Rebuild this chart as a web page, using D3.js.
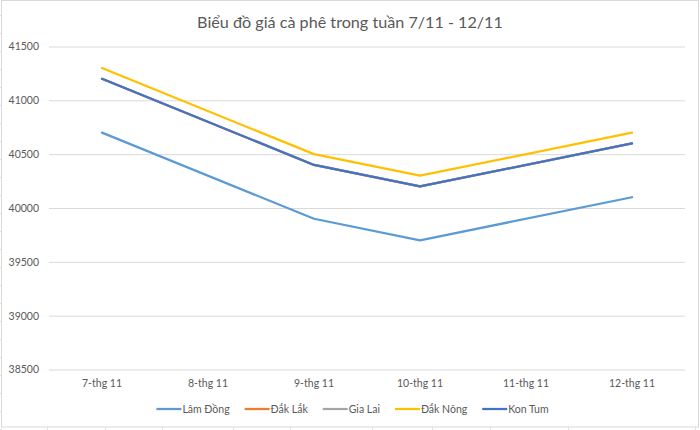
<!DOCTYPE html>
<html>
<head>
<meta charset="utf-8">
<script src="https://cdn.jsdelivr.net/npm/d3@7"></script>
<style>
  html, body { margin: 0; padding: 0; background: #fff; }
  svg { display: block; }
  text { font-family: Lato, "Open Sans", sans-serif; fill: #595959; }
</style>
</head>
<body>
<svg id="chart" width="700" height="430"></svg>
<script>
const categories = ["7-thg 11", "8-thg 11", "9-thg 11", "10-thg 11", "11-thg 11", "12-thg 11"];
const seriesNames = ["Lâm Đồng", "Đắk Lắk", "Gia Lai", "Đắk Nông", "Kon Tum"];
const lamDong = [40700, null, 39900, 39700, null, 40100];
const dakLak  = [41200, null, 40400, 40200, null, 40600];
const giaLai  = [41200, null, 40400, 40200, null, 40600];
const dakNong = [41300, null, 40500, 40300, null, 40700];
const konTum  = [41200, null, 40400, 40200, null, 40600];
const yTicks = [38500, 39000, 39500, 40000, 40500, 41000, 41500];
const titleText = "Biểu đồ giá cà phê trong tuần 7/11 - 12/11";

const seriesValues = [lamDong, dakLak, giaLai, dakNong, konTum];
const colors = ["#5B9BD5", "#ED7D31", "#A5A5A5", "#FFC000", "#4472C4"];

const svg = d3.select("#chart");

// cell-grid remnants outside chart frame
const cellLines = svg.append("g").attr("stroke", "#e2e2e2").attr("stroke-width", 1);
d3.range(15, 430, 18).forEach(y => cellLines.append("line").attr("x1", 0).attr("x2", 2).attr("y1", y + 0.5).attr("y2", y + 0.5));
[47, 105, 162, 233, 290, 372, 432, 490, 568, 695].forEach(x => cellLines.append("line").attr("x1", x + 0.5).attr("x2", x + 0.5).attr("y1", 427).attr("y2", 430));

// chart frame
svg.append("rect").attr("x", 1.5).attr("y", 0.5).attr("width", 697).attr("height", 426.5)
  .attr("fill", "#fff").attr("stroke", "#d9d9d9").attr("stroke-width", 1);

const plotLeft = 49, plotRight = 685;
const x = d3.scaleBand().domain(categories).range([plotLeft, plotRight]);
const y = d3.scaleLinear().domain([38500, 41500]).range([369.5, 46.5]);

// gridlines + y labels
const yAxis = d3.axisLeft(y).tickValues(yTicks).tickSize(-(plotRight - plotLeft)).tickPadding(10).tickFormat(d3.format("d"));
const gy = svg.append("g").attr("transform", `translate(${plotLeft},0)`).call(yAxis);
gy.select(".domain").remove();
gy.selectAll(".tick line").attr("stroke", "#d9d9d9").attr("stroke-width", 1);
gy.selectAll(".tick text").attr("font-size", 10.5).attr("fill", "#595959").attr("font-family", "Lato, sans-serif");

// x labels
const xAxis = d3.axisBottom(x).tickSize(0).tickPadding(10);
const gx = svg.append("g").attr("transform", `translate(0,${y(38500)})`).call(xAxis);
gx.select(".domain").remove();
gx.selectAll(".tick text").attr("font-size", 10.5).attr("fill", "#595959").attr("font-family", "Lato, sans-serif");

// lines
const line = d3.line()
  .x(d => x(d.cat) + x.bandwidth() / 2)
  .y(d => y(d.v));
seriesValues.forEach((vals, i) => {
  const pts = categories.map((c, j) => ({ cat: c, v: vals[j] })).filter(d => d.v !== null);
  svg.append("path").datum(pts)
    .attr("d", line)
    .attr("fill", "none")
    .attr("stroke", colors[i])
    .attr("stroke-width", 2.25)
    .attr("stroke-linejoin", "round")
    .attr("stroke-linecap", "round");
});

// title
const title = svg.append("text").attr("x", 350).attr("y", 28).attr("text-anchor", "middle")
  .attr("font-size", 16).attr("fill", "#595959").text(titleText);
const tw = title.node().getComputedTextLength();
title.attr("font-size", 16 * 306 / tw);

// legend
const legend = svg.append("g");
const items = [];
let cx = 0;
seriesNames.forEach((name, i) => {
  const g = legend.append("g");
  g.append("line").attr("x1", 0).attr("x2", 25).attr("y1", 0).attr("y2", 0)
    .attr("stroke", colors[i]).attr("stroke-width", 2.25);
  const t = g.append("text").attr("x", 26).attr("y", 0).attr("dy", "0.35em")
    .attr("font-size", 10.5).attr("fill", "#595959").text(name);
  const w = 26 + t.node().getComputedTextLength();
  g.attr("transform", `translate(${cx},0)`);
  items.push(g);
  cx += w + 15;
});
const total = cx - 15;
legend.attr("transform", `translate(${352.5 - total / 2},409)`);
</script>
</body>
</html>
